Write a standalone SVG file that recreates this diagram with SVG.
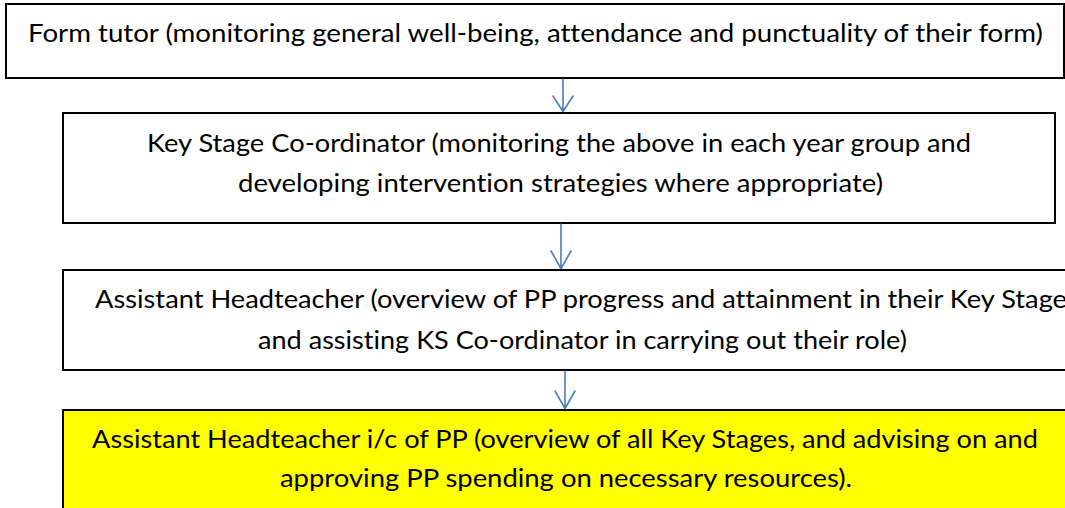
<svg xmlns="http://www.w3.org/2000/svg" width="1065" height="508" viewBox="0 0 1065 508">
  <defs>
    <style>
      .box { fill: #ffffff; stroke: #000000; stroke-width: 2; }
      .box.hl { fill: #ffff00; }
      .lbl { font-family: Lato, "Open Sans", "Liberation Sans", sans-serif; font-size: 25px; fill: #000000; font-variant-ligatures: none; font-feature-settings: "liga" 0, "dlig" 0; }
      .link { fill: none; stroke: #4a7ebb; stroke-width: 1.6; stroke-linecap: round; stroke-linejoin: round; }
    </style>
  </defs>
  <rect x="0" y="0" width="1065" height="508" fill="#ffffff"/>

  <!-- reporting chain, top to bottom -->
  <g id="form-tutor">
    <rect class="box" x="6" y="4" width="1058" height="74"/>
    <text class="lbl" x="28" y="42" textLength="1015" lengthAdjust="spacingAndGlyphs">Form tutor (monitoring general well-being, attendance and punctuality of their form)</text>
  </g>

  <g id="ks-coordinator">
    <rect class="box" x="63" y="113" width="992" height="110"/>
    <text class="lbl" x="147" y="152" textLength="824" lengthAdjust="spacingAndGlyphs">Key Stage Co-ordinator (monitoring the above in each year group and</text>
    <text class="lbl" x="238" y="192" textLength="645" lengthAdjust="spacingAndGlyphs">developing intervention strategies where appropriate)</text>
  </g>

  <g id="assistant-head">
    <rect class="box" x="63" y="270" width="1015" height="100"/>
    <text class="lbl" x="95" y="308" textLength="972" lengthAdjust="spacingAndGlyphs">Assistant Headteacher (overview of PP progress and attainment in their Key Stage</text>
    <text class="lbl" x="258" y="349" textLength="649" lengthAdjust="spacingAndGlyphs">and assisting KS Co-ordinator in carrying out their role)</text>
  </g>

  <g id="assistant-head-pp">
    <rect class="box hl" x="63" y="410" width="1015" height="110"/>
    <text class="lbl" x="92" y="448" textLength="946" lengthAdjust="spacingAndGlyphs">Assistant Headteacher i/c of PP (overview of all Key Stages, and advising on and</text>
    <text class="lbl" x="280" y="487" textLength="572" lengthAdjust="spacingAndGlyphs">approving PP spending on necessary resources).</text>
  </g>

  <!-- downward links between levels -->
  <g id="connectors">
    <path class="link" d="M563 79 V111.5 M553 96 L563 111.5 L573 96"/>
    <path class="link" d="M561 224 V268.5 M551 251 L561 268.5 L571 251"/>
    <path class="link" d="M565 371 V408.5 M555 391 L565 408.5 L575 391"/>
  </g>
</svg>
